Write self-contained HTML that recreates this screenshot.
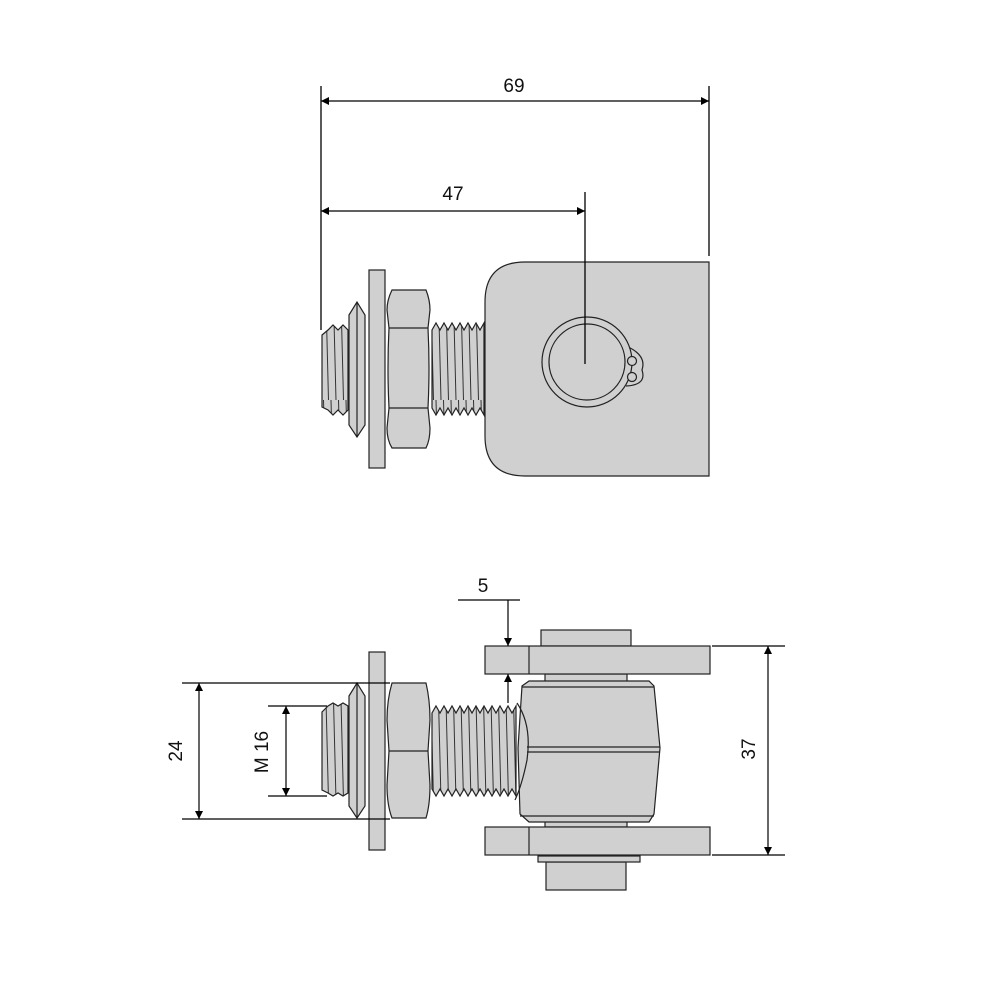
<!DOCTYPE html>
<html><head><meta charset="utf-8"><style>
html,body{margin:0;padding:0;background:#fff}
svg{display:block}
text{font-family:"Liberation Sans",sans-serif;font-size:19px;fill:#111}
</style></head><body>
<svg width="1000" height="1000" viewBox="0 0 1000 1000" xmlns="http://www.w3.org/2000/svg">
<defs>
<marker id="a" viewBox="0 0 10 10" refX="10" refY="5" markerWidth="16" markerHeight="8" orient="auto-start-reverse" markerUnits="userSpaceOnUse"><path d="M0,0 L10,5 L0,10z" fill="#000"/></marker>
<pattern id="th" width="7.5" height="200" patternUnits="userSpaceOnUse" x="0" y="0">
<rect width="7.5" height="200" fill="#d0d0d0"/>
<path d="M1,0 L6,200" stroke="#333" stroke-width="1"/>
</pattern>
</defs>
<g stroke="#000" stroke-width="1.3" fill="none">
<line x1="321" y1="86" x2="321" y2="330"/>
<line x1="709" y1="86" x2="709" y2="256"/>
<line x1="321" y1="101" x2="709" y2="101" marker-start="url(#a)" marker-end="url(#a)"/>
<line x1="321" y1="211" x2="585" y2="211" marker-start="url(#a)" marker-end="url(#a)"/>
</g>
<text x="514" y="92" text-anchor="middle">69</text>
<text x="453" y="200" text-anchor="middle">47</text>

<!-- TOP VIEW -->
<g stroke="#222" stroke-width="1.2" fill="#d0d0d0">
<path d="M525,262 H709 V476 H525 Q485,476 485,436 V302 Q485,262 525,262z"/>
<path d="M626,346 Q647,355 642,370 Q647,385 626,386" />
<circle cx="587" cy="362" r="45"/>
<circle cx="587" cy="362" r="38"/>
<circle cx="632" cy="361" r="4.5"/>
<circle cx="632" cy="377" r="4.5"/>
<path d="M322,335 L328,330 L333,325 L338,330 L343,325 L348,330 V410 L343,415 L338,410 L333,415 L328,410 L322,407z" fill="url(#th)"/>
<path d="M349,315 L357,302 L365,315 V425 L357,437 L349,425z"/>
<line x1="357" y1="302" x2="357" y2="437"/>
<rect x="369" y="270" width="16" height="198"/>
<path d="M392,290 H426 Q430,300 430,310 L428,328 Q430,368 428,408 L430,428 Q430,440 426,448 H392 Q387,440 387,428 L389,408 Q387,368 389,328 L387,310 Q387,300 392,290z"/>
<line x1="389" y1="328" x2="428" y2="328"/>
<line x1="389" y1="408" x2="428" y2="408"/>
<path d="M432,330 L436,323 L440,330 L444,323 L448,330 L452,323 L456,330 L460,323 L464,330 L468,323 L472,330 L476,323 L480,330 L484,323 V415 L480,408 L476,415 L472,408 L468,415 L464,408 L460,415 L456,408 L452,415 L448,408 L444,415 L440,408 L436,415 L432,408z" fill="url(#th)"/>
</g>
<line x1="585" y1="192" x2="585" y2="364" stroke="#000" stroke-width="1.3"/>

<!-- BOTTOM VIEW -->
<g stroke="#222" stroke-width="1.2" fill="#d0d0d0">
<rect x="541" y="630" width="90" height="16"/>
<rect x="546" y="862" width="80" height="28"/>
<rect x="538" y="856" width="102" height="6"/>
<rect x="545" y="674" width="82" height="8"/>
<rect x="545" y="820" width="82" height="7"/>
<rect x="485" y="646" width="225" height="28"/>
<line x1="529" y1="646" x2="529" y2="674"/>
<rect x="485" y="827" width="225" height="28"/>
<line x1="529" y1="827" x2="529" y2="855"/>
<path d="M529,681 L649,681 L654,686 L660,748 L654,814 L649,822 L529,822 L520,814 L518,748 L522,686z"/>
<line x1="522" y1="687" x2="654" y2="687"/>
<line x1="520" y1="816" x2="654" y2="816"/>
<line x1="527" y1="747" x2="660" y2="747"/>
<line x1="527" y1="752" x2="660" y2="752"/>
<path d="M517,703 Q532,725 527,760 Q522,785 515,800" fill="none"/>
<path d="M322,712 L328,706 L333,703 L338,706 L343,703 L348,706 V793 L343,796 L338,793 L333,796 L328,793 L322,790z" fill="url(#th)"/>
<path d="M349,696 L357,683 L365,696 V806 L357,818 L349,806z"/>
<line x1="357" y1="683" x2="357" y2="818"/>
<rect x="369" y="652" width="16" height="198"/>
<path d="M392,683 H426 Q430,700 430,720 L428,751 L430,785 Q430,805 426,818 H392 Q387,805 387,785 L389,751 L387,720 Q387,700 392,683z"/>
<line x1="389" y1="751" x2="428" y2="751"/>
<path d="M432,713 L436,706 L440,713 L444,706 L448,713 L452,706 L456,713 L460,706 L464,713 L468,706 L472,713 L476,706 L480,713 L484,706 L488,713 L492,706 L496,713 L500,706 L504,713 L508,706 L512,713 L516,706 V796 L512,789 L508,796 L504,789 L500,796 L496,789 L492,796 L488,789 L484,796 L480,789 L476,796 L472,789 L468,796 L464,789 L460,796 L456,789 L452,796 L448,789 L444,796 L440,789 L436,796 L432,789z" fill="url(#th)"/>
</g>

<g stroke="#000" stroke-width="1.2" fill="none">
<line x1="182" y1="683" x2="390" y2="683"/>
<line x1="182" y1="819" x2="390" y2="819"/>
<line x1="199" y1="683" x2="199" y2="819" marker-start="url(#a)" marker-end="url(#a)"/>
<line x1="268" y1="706" x2="327" y2="706"/>
<line x1="268" y1="796" x2="327" y2="796"/>
<line x1="286" y1="706" x2="286" y2="796" marker-start="url(#a)" marker-end="url(#a)"/>
<line x1="712" y1="646" x2="785" y2="646"/>
<line x1="712" y1="855" x2="785" y2="855"/>
<line x1="768" y1="646" x2="768" y2="855" marker-start="url(#a)" marker-end="url(#a)"/>
<line x1="458" y1="600" x2="520" y2="600"/>
<line x1="508" y1="600" x2="508" y2="646" marker-end="url(#a)"/>
<line x1="508" y1="703" x2="508" y2="674" marker-end="url(#a)"/>
</g>
<text x="483" y="592" text-anchor="middle">5</text>
<text transform="translate(182,751) rotate(-90)" text-anchor="middle">24</text>
<text transform="translate(268,752) rotate(-90)" text-anchor="middle">M 16</text>
<text transform="translate(755,749) rotate(-90)" text-anchor="middle">37</text>
</svg>
</body></html>
